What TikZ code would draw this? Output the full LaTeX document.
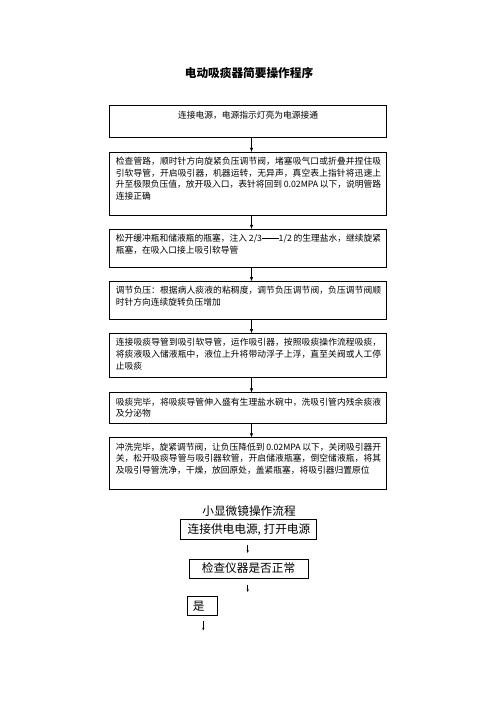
\documentclass[tikz,border=0pt]{standalone}
\usepackage{fontspec}
\setmainfont{Noto Sans CJK SC}
\usetikzlibrary{arrows.meta}
\XeTeXlinebreaklocale "zh"
\XeTeXlinebreakskip=0pt plus 4pt
\XeTeXlinebreakpenalty=10000
\newcommand{\longdash}{\rule[0.34em]{1.9em}{0.06em}}
\tikzset{
  stepbox/.style={draw, line width=1.2pt, inner sep=0pt, outer sep=0pt, minimum width=332.4pt, anchor=north west},
  smallbox/.style={draw, line width=1.1pt, inner sep=0pt, outer sep=0pt, anchor=north west},
  txt/.style={inner sep=0pt, text width=318.4pt, align=justify, anchor=base west,
    font=\fontsize{10.5}{14}\selectfont},
  arr/.style={line width=0.7pt, -{Latex[length=5pt,width=4pt]}},
  sarr/.style={line width=0.5pt, -{Latex[length=3.5pt,width=2.6pt]}},
  bigtxt/.style={inner sep=0pt, font=\fontsize{14}{16}\selectfont}
}
\begin{document}
\begin{tikzpicture}[x=1.2pt,y=-1.2pt]
\useasboundingbox (0,0) rectangle (496,702);
\node[bigtxt, font=\fontsize{14}{16}\selectfont\bfseries] (title) at (249,73) {电动吸痰器简要操作程序};
% boxes
\node[stepbox, minimum height=38.4pt] (b1) at (109,105.7) {};
\node[stepbox, minimum height=76pt] (b2) at (109,152) {};
\node[stepbox, minimum height=46.4pt] (b3) at (109,229) {};
\node[stepbox, minimum height=45.6pt] (b4) at (109,281.3) {};
\node[stepbox, minimum height=53.6pt] (b5) at (109,333.3) {};
\node[stepbox, minimum height=37pt] (b6) at (109,392.5) {};
\node[stepbox, minimum height=62.4pt] (b7) at (109,437.5) {};
% texts
\node[inner sep=0pt, anchor=base, font=\fontsize{10.5}{14}\selectfont] (t1) at (248,118.5) {连接电源，电源指示灯亮为电源接通};
\node[txt] (t2) at (115.7,152+12.6) {检查管路，顺时针方向旋紧负压调节阀，堵塞吸气口或折叠并捏住吸\linebreak
引软导管，开启吸引器，机器运转，无异声，真空表上指针将迅速上\linebreak
升至极限负压值，放开吸入口，表针将回到~0.02MPA~以下，说明管路\linebreak
连接正确};
\node[txt] (t3) at (115.7,229+12.6) {松开缓冲瓶和储液瓶的瓶塞，注入~2/3\longdash1/2~的生理盐水，继续旋紧\linebreak
瓶塞，在吸入口接上吸引软导管};
\node[txt] (t4) at (115.7,281.3+12.6) {调节负压：根据病人痰液的粘稠度，调节负压调节阀，负压调节阀顺\linebreak
时针方向连续旋转负压增加};
\node[txt] (t5) at (115.7,333.3+12.6) {连接吸痰导管到吸引软导管，运作吸引器，按照吸痰操作流程吸痰，\linebreak
将痰液吸入储液瓶中，液位上升将带动浮子上浮，直至关阀或人工停\linebreak
止吸痰};
\node[txt] (t6) at (115.7,392.5+12.6) {吸痰完毕，将吸痰导管伸入盛有生理盐水碗中，洗吸引管内残余痰液\linebreak
及分泌物};
\node[txt] (t7) at (115.7,437.5+12.6) {冲洗完毕，旋紧调节阀，让负压降低到~0.02MPA~以下，关闭吸引器开\linebreak
关，松开吸痰导管与吸引器软管，开启储液瓶塞，倒空储液瓶，将其\linebreak
及吸引导管洗净，干燥，放回原处，盖紧瓶塞，将吸引器归置原位};
% arrows
\coordinate (ax) at (251.5,0);
\draw[arr] (b1.south -| ax) -- (b2.north -| ax);
\draw[arr] (b2.south -| ax) -- (b3.north -| ax);
\draw[arr] (b3.south -| ax) -- (b4.north -| ax);
\draw[arr] (b4.south -| ax) -- (b5.north -| ax);
\draw[arr] (b5.south -| ax) -- (b6.north -| ax);
\draw[arr] (b6.south -| ax) -- (b7.north -| ax);
% lower section
\node[bigtxt] (title2) at (249,511.5) {小显微镜操作流程};
\node[smallbox, minimum width=162.4pt, minimum height=24.4pt] (ba) at (180.7,519) {};
\node[bigtxt] (ta) at (249,529.5) {连接供电电源, 打开电源};
\node[smallbox, minimum width=143.2pt, minimum height=23.2pt] (bb) at (189,559) {};
\node[bigtxt] (tb) at (248.5,568.5) {检查仪器是否正常};
\node[smallbox, minimum width=36.5pt, minimum height=22.8pt] (bc) at (187.3,596.7) {};
\node[bigtxt, anchor=west] (tc) at (192.7,606) {是};
\coordinate (a1s) at (247.7,545);
\coordinate (a1e) at (247.7,553.3);
\coordinate (a2s) at (247.7,585);
\coordinate (a2e) at (247.7,592.3);
\coordinate (a3s) at (203.3,621);
\coordinate (a3e) at (203.3,630.7);
\draw[sarr] (a1s) -- (a1e);
\draw[sarr] (a2s) -- (a2e);
\draw[sarr] (a3s) -- (a3e);
\end{tikzpicture}
\end{document}
